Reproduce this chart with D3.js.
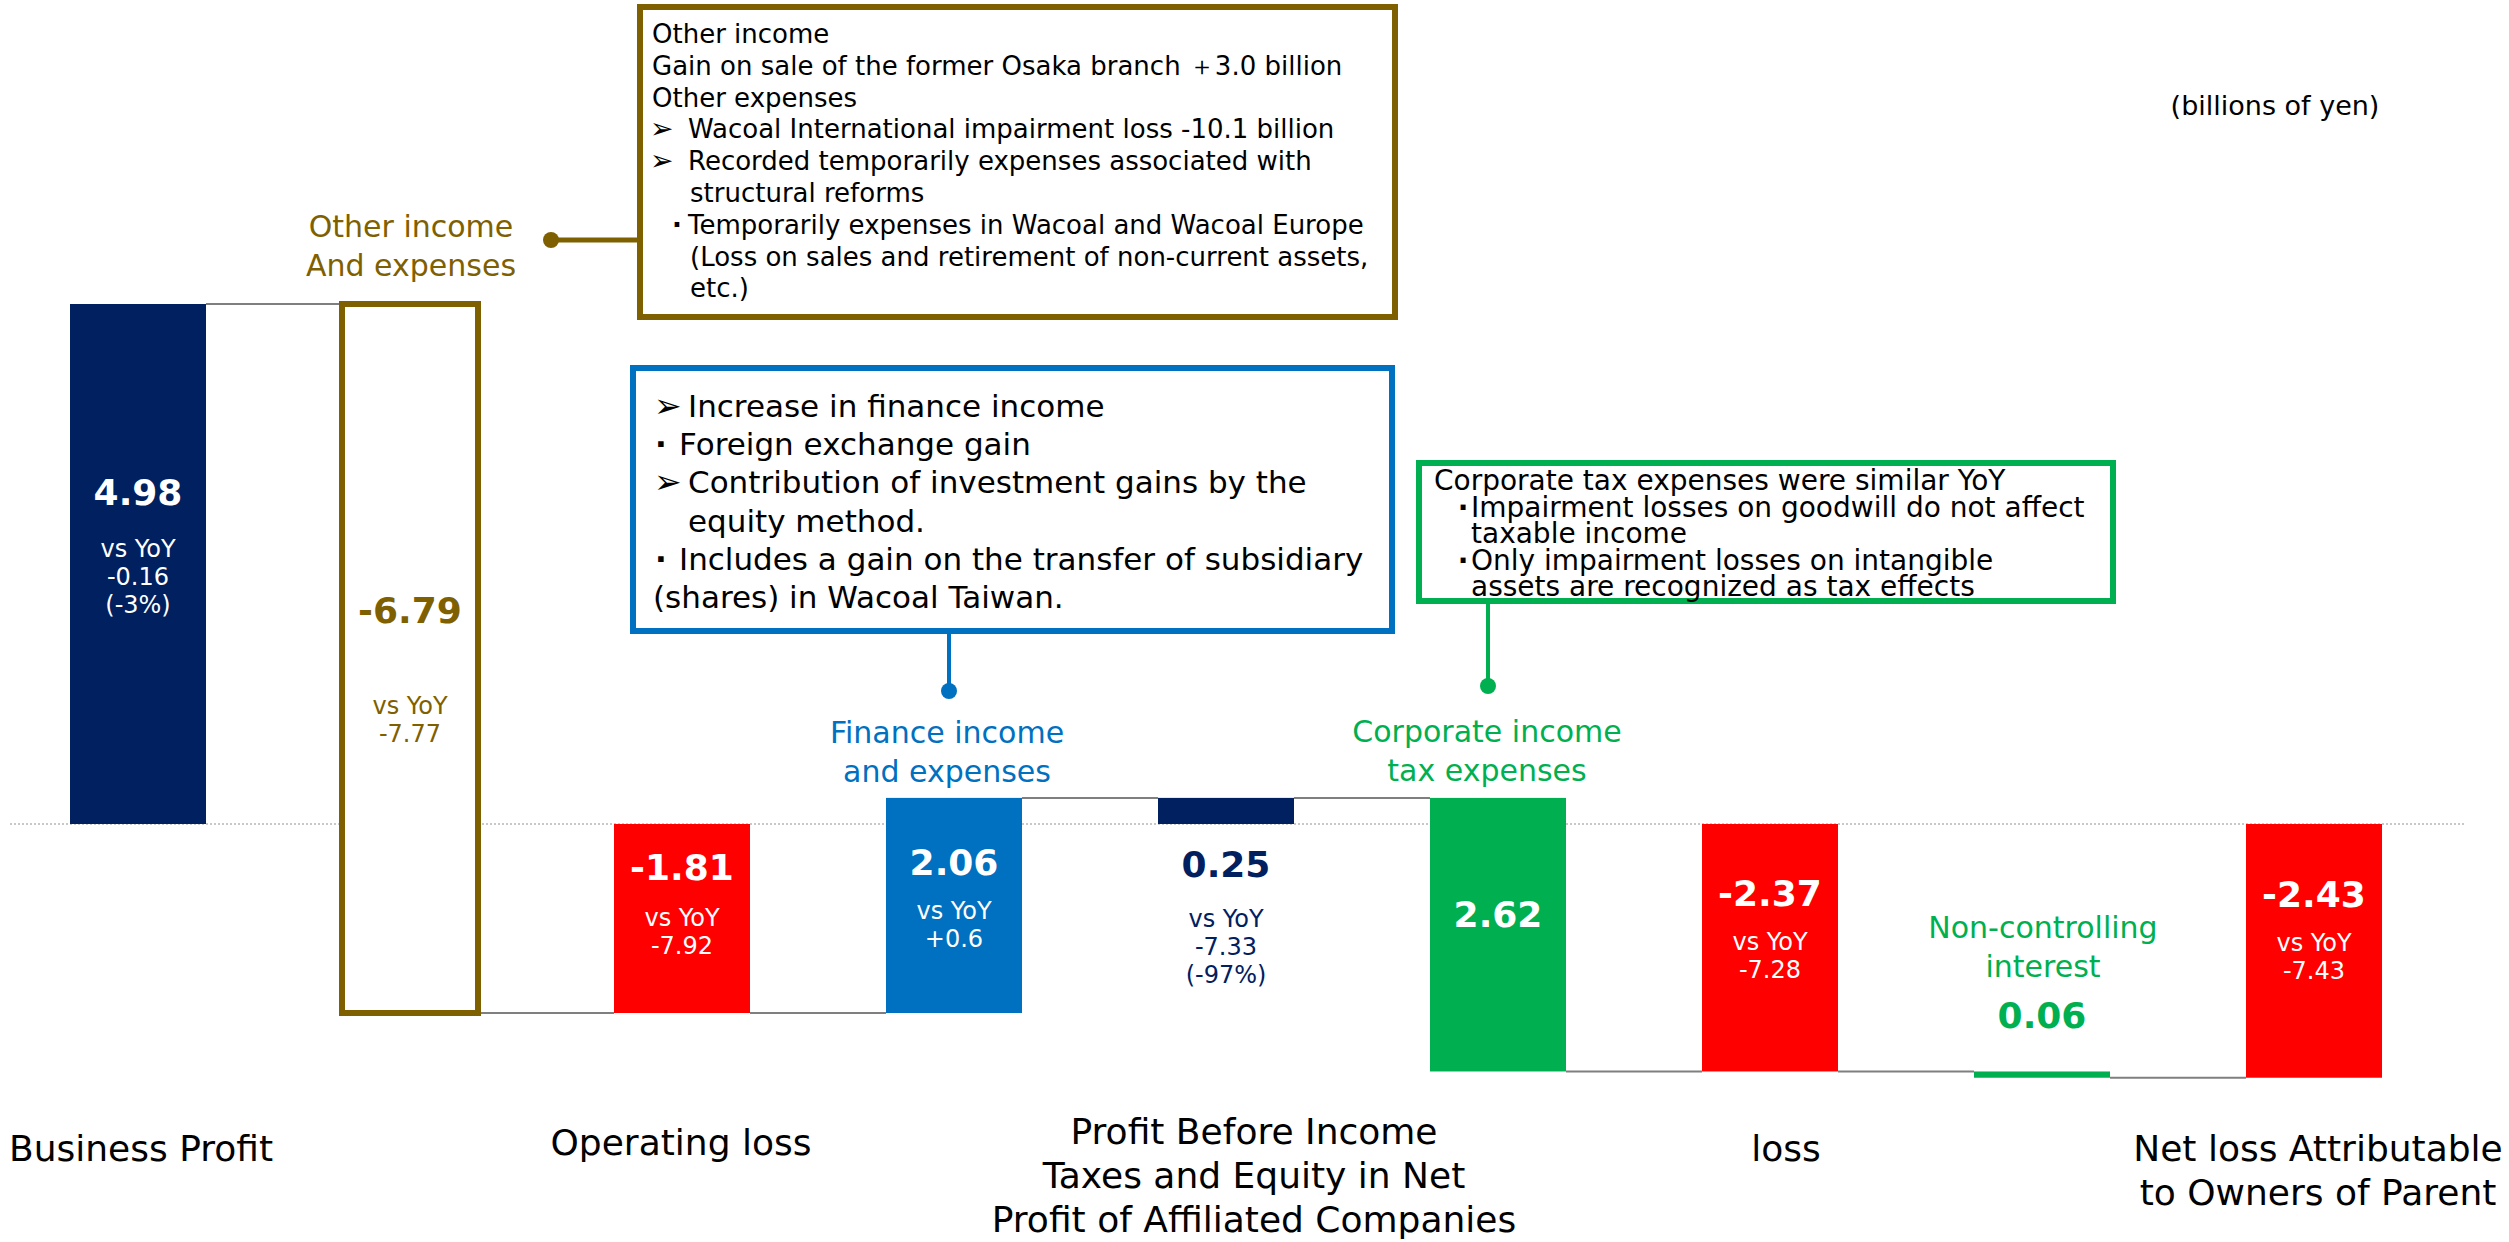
<!DOCTYPE html>
<html lang="en">
<head>
<meta charset="utf-8">
<script src="https://d3js.org/d3.v7.min.js"></script>
<style>
  body { margin: 0; background: #ffffff; }
  text { font-family: "DejaVu Sans", Verdana, sans-serif; }
</style>
</head>
<body>
<script>

// Width and height
var w = 2509;
var h = 1242;

// Chart data (billions of yen)
var categories = ["Business Profit", "Other income And expenses", "Operating loss",
  "Finance income and expenses", "Profit Before Income Taxes", "Corporate income tax expenses",
  "loss", "Non-controlling interest", "Net loss Attributable to Owners of Parent"];
var values = [4.98, -6.79, -1.81, 2.06, 0.25, 2.62, -2.37, 0.06, -2.43];
var barKind = ["total", "step", "total", "step", "total", "step", "total", "step", "total"];
var yoyChange = ["-0.16", "-7.77", "-7.92", "+0.6", "-7.33", null, "-7.28", null, "-7.43"];
var yoyPct = ["(-3%)", null, null, null, "(-97%)", null, null, null, null];
var bottomLabels = [["Business Profit"], null, ["Operating loss"], null,
  ["Profit Before Income", "Taxes and Equity in Net", "Profit of Affiliated Companies"], null,
  ["loss"], null, ["Net loss Attributable", "to Owners of Parent"]];
var stepTitles = [null, ["Other income", "And expenses"], null, ["Finance income", "and expenses"], null,
  ["Corporate income", "tax expenses"], null, ["Non-controlling", "interest"], null];
var unitLabel = "(billions of yen)";

// Callout notes: [bullet, text]
var brownNote = [["", "Other income"],
  ["", "Gain on sale of the former Osaka branch \uFF0B3.0 billion"],
  ["", "Other expenses"],
  ["\u27A2", "Wacoal International impairment loss -10.1 billion"],
  ["\u27A2", "Recorded temporarily expenses associated with"],
  [" ", "structural reforms"],
  ["\u30FB", "Temporarily expenses in Wacoal and Wacoal Europe"],
  [" ", "(Loss on sales and retirement of non-current assets,"],
  [" ", "etc.)"]];
var blueNote = [["\u27A2", "Increase in finance income"],
  ["\u00B7", "Foreign exchange gain"],
  ["\u27A2", "Contribution of investment gains by the"],
  [" ", "equity method."],
  ["\u00B7", "Includes a gain on the transfer of subsidiary"],
  ["", "(shares) in Wacoal Taiwan."]];
var greenNote = [["", "Corporate tax expenses were similar YoY"],
  ["\u30FB", "Impairment losses on goodwill do not affect"],
  [" ", "taxable income"],
  ["\u30FB", "Only impairment losses on intangible"],
  [" ", "assets are recognized as tax effects"]];

// Colours
var navy = "#002060", brown = "#7F6000", red = "#FF0000", blue = "#0070C0", green = "#00B050";
var barColor = [navy, brown, red, blue, navy, green, red, green, red];
var valueColor = ["#fff", brown, "#fff", "#fff", navy, "#fff", "#fff", green, "#fff"];

// Label layout (baselines)
var valueY = [505, 623, 880, 875, 877, 927, 906, 1028, 907];
var yoyY = [557, 714, 926, 919, 927, null, 950, null, 951];
var titleY = [null, 237, null, 743, null, 742, null, 938, null];
var titleDx = [0, 1, 0, -7, 0, -11, 0, 1, 0];
var bottomY = [1161, null, 1155, null, 1144, null, 1161, null, 1161];
var bottomDx = [3, 0, -1, 0, 28, 0, 16, 0, 4];

// Scales
var x = d3.scaleBand()
  .domain(categories)
  .range([2, 2450])
  .paddingInner(0.5)
  .paddingOuter(0.25);

var y = d3.scaleLinear()
  .domain([0, 4.98])
  .range([824, 304]);

function span(i) {
  if (barKind[i] == "total") return [0, values[i]];
  return [values[i - 1], values[i + 1]];
}
function levelAfter(i) {
  return barKind[i] == "total" ? values[i] : values[i + 1];
}

// Create SVG element
var svg = d3.select("body")
  .append("svg")
  .attr("width", w)
  .attr("height", h);

// zero line
svg.append("line")
  .attr("x1", 10).attr("x2", 2464)
  .attr("y1", y(0)).attr("y2", y(0))
  .style("stroke", "#c8c8c8")
  .style("stroke-width", 2)
  .style("stroke-dasharray", "2,2");

// connectors between bars
svg.selectAll("line.conn")
  .data(d3.range(categories.length - 1))
  .enter()
  .append("line")
  .attr("class", "conn")
  .attr("x1", function(i) { return x(categories[i]) + x.bandwidth(); })
  .attr("x2", function(i) { return x(categories[i + 1]); })
  .attr("y1", function(i) { return y(levelAfter(i)); })
  .attr("y2", function(i) { return y(levelAfter(i)); })
  .style("stroke", "#7f7f7f")
  .style("stroke-width", 2);

// bars
svg.selectAll("rect.bar")
  .data(d3.range(categories.length))
  .enter()
  .append("rect")
  .attr("class", "bar")
  .attr("x", function(i) { return x(categories[i]); })
  .attr("width", x.bandwidth())
  .attr("y", function(i) { return y(d3.max(span(i))); })
  .attr("height", function(i) { return Math.abs(y(span(i)[0]) - y(span(i)[1])); })
  .style("fill", function(i) { return i == 1 ? "#fff" : barColor[i]; })
  .style("stroke", function(i) { return i == 1 ? brown : "none"; })
  .style("stroke-width", 6);

// value labels
svg.selectAll("text.value")
  .data(d3.range(categories.length))
  .enter()
  .append("text")
  .attr("class", "value")
  .attr("x", function(i) { return x(categories[i]) + x.bandwidth() / 2; })
  .attr("y", function(i) { return valueY[i]; })
  .attr("text-anchor", "middle")
  .style("font-size", "36px")
  .style("font-weight", "bold")
  .style("fill", function(i) { return valueColor[i]; })
  .text(function(i) { return values[i].toFixed(2); });

// vs YoY labels
d3.range(categories.length).forEach(function(i) {
  if (yoyChange[i] == null) return;
  var lines = ["vs YoY", yoyChange[i]];
  if (yoyPct[i]) lines.push(yoyPct[i]);
  var t = svg.append("text")
    .attr("text-anchor", "middle")
    .style("font-size", "24px")
    .style("fill", valueColor[i]);
  lines.forEach(function(s, k) {
    t.append("tspan")
      .attr("x", x(categories[i]) + x.bandwidth() / 2)
      .attr("y", yoyY[i] + k * 28)
      .text(s);
  });
});

// step titles
d3.range(categories.length).forEach(function(i) {
  if (!stepTitles[i]) return;
  var t = svg.append("text")
    .attr("text-anchor", "middle")
    .style("font-size", "30px")
    .style("fill", barColor[i]);
  stepTitles[i].forEach(function(s, k) {
    t.append("tspan")
      .attr("x", x(categories[i]) + x.bandwidth() / 2 + titleDx[i])
      .attr("y", titleY[i] + k * 39)
      .text(s);
  });
});

// bottom category labels
d3.range(categories.length).forEach(function(i) {
  if (!bottomLabels[i]) return;
  var t = svg.append("text")
    .attr("text-anchor", "middle")
    .style("font-size", "36px")
    .style("fill", "#000");
  bottomLabels[i].forEach(function(s, k) {
    t.append("tspan")
      .attr("x", x(categories[i]) + x.bandwidth() / 2 + bottomDx[i])
      .attr("y", bottomY[i] + k * 44)
      .text(s);
  });
});

// unit
svg.append("text")
  .attr("x", 2275).attr("y", 115)
  .attr("text-anchor", "middle")
  .style("font-size", "27px")
  .text(unitLabel);

// callout boxes
function drawNote(note, box, color, size, lineH, firstY, xText, xBullet, xIndent, xDot, xPlain) {
  svg.append("rect")
    .attr("x", box[0]).attr("y", box[1])
    .attr("width", box[2]).attr("height", box[3])
    .style("fill", "#fff")
    .style("stroke", color)
    .style("stroke-width", 6);
  note.forEach(function(d, k) {
    var yy = firstY + k * lineH;
    var tx = d[0] == "" ? xPlain : (d[0] == " " ? xIndent : xText);
    if (d[0] == "\u27A2") {
      svg.append("text").attr("x", xBullet).attr("y", yy)
        .style("font-size", (size + 2) + "px").text(d[0]);
    } else if (d[0] == "\u30FB" || d[0] == "\u00B7") {
      svg.append("text").attr("x", xDot).attr("y", yy)
        .attr("text-anchor", "middle")
        .style("font-size", size + "px").style("font-weight", "bold").text("\u00B7");
    }
    svg.append("text").attr("x", tx).attr("y", yy)
      .style("font-size", size + "px")
      .style("fill", "#000")
      .text(d[1]);
  });
}

// brown note
svg.append("line").attr("x1", 551).attr("x2", 637).attr("y1", 240).attr("y2", 240)
  .style("stroke", brown).style("stroke-width", 5);
svg.append("circle").attr("cx", 551).attr("cy", 240).attr("r", 8).style("fill", brown);
drawNote(brownNote, [640, 7, 755, 310], brown, 26, 31.8, 43, 688, 650, 690, 677, 652);

// blue note
svg.append("line").attr("x1", 949).attr("x2", 949).attr("y1", 634).attr("y2", 691)
  .style("stroke", blue).style("stroke-width", 4);
svg.append("circle").attr("cx", 949).attr("cy", 691).attr("r", 8).style("fill", blue);
drawNote(blueNote, [633, 368, 759, 263], blue, 31, 38.2, 417, 679, 654, 688, 661, 653);
// arrow lines put text a bit further right
svg.selectAll("text").filter(function() {
  var t = d3.select(this).text();
  return t == "Increase in finance income" || t == "Contribution of investment gains by the";
}).attr("x", 688);

// green note
svg.append("line").attr("x1", 1488).attr("x2", 1488).attr("y1", 604).attr("y2", 686)
  .style("stroke", green).style("stroke-width", 4);
svg.append("circle").attr("cx", 1488).attr("cy", 686).attr("r", 8).style("fill", green);
drawNote(greenNote, [1419, 463, 694, 138], green, 28, 26.5, 490, 1471, 1440, 1471, 1463, 1434);

</script>
</body>
</html>
